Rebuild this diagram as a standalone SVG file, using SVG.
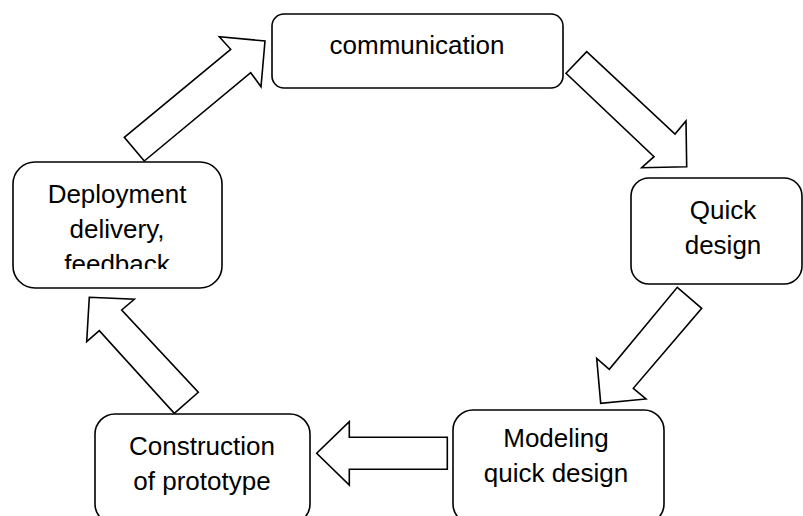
<svg xmlns="http://www.w3.org/2000/svg" width="803" height="516" viewBox="0 0 803 516">
<defs>
<style>
.box{fill:#fff;stroke:#000;stroke-width:1.6}
.arr{fill:#fff;stroke:#000;stroke-width:1.6;stroke-linejoin:miter}
.t{font-family:"Liberation Sans",Arial,sans-serif;font-size:26px;fill:#000;text-anchor:middle}
</style>
<clipPath id="clipDep"><rect x="13" y="162" width="209" height="107"/></clipPath>
</defs>
<rect width="803" height="516" fill="#fff"/>
<g id="connectors">
<polygon class="arr" points="144.3,161 124.3,137.3 230.7,49.3 219.3,36.7 265,41 261,86.7 250.7,72.7"/>
<polygon class="arr" points="566,73.3 586.7,51.7 675,134 686,121 686.7,166.7 641.7,167.7 654,156.7"/>
<polygon class="arr" points="677.3,287.3 701.7,308.3 633.3,388.3 646,399 600.7,403.3 596.7,358.3 609.3,369.3"/>
<polygon class="arr" points="447.3,437.3 447.3,469.3 349.3,469.3 349.3,485 316.7,453.3 349.3,421.7 349.3,437.3"/>
<polygon class="arr" points="174.3,413.3 198.3,392.3 121.7,310 134.3,299.3 89.3,297.3 86.7,341.7 99.3,330.7"/>
</g>
<g id="communication">
<rect class="box" x="272" y="14" width="291" height="74" rx="12"/>
<text class="t" x="417" y="54">communication</text>
</g>
<g id="quick-design">
<rect class="box" x="631" y="178" width="171" height="106" rx="18"/>
<text class="t" x="723" y="219">Quick</text>
<text class="t" x="723" y="254">design</text>
</g>
<g id="modeling">
<rect class="box" x="453" y="410" width="211" height="114" rx="20"/>
<text class="t" x="556" y="447">Modeling</text>
<text class="t" x="556" y="482">quick design</text>
</g>
<g id="construction">
<rect class="box" x="95" y="414" width="215" height="110" rx="20"/>
<text class="t" x="202" y="455">Construction</text>
<text class="t" x="202" y="490">of prototype</text>
</g>
<g id="deployment">
<rect class="box" x="13" y="162" width="209" height="126" rx="22"/>
<g clip-path="url(#clipDep)">
<text class="t" x="117" y="203">Deployment</text>
<text class="t" x="117" y="238">delivery,</text>
<text class="t" x="117" y="273">feedback</text>
</g>
</g>
</svg>
